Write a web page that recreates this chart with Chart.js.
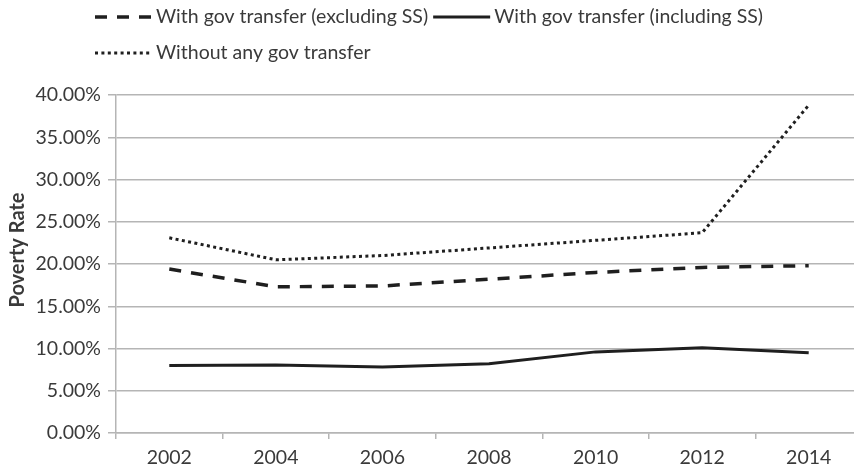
<!DOCTYPE html>
<html>
<head>
<meta charset="utf-8">
<script src="https://cdn.jsdelivr.net/npm/chart.js@4"></script>
<style>
  html, body { margin: 0; padding: 0; background: #fff; }
  #wrap { width: 854px; height: 471px; overflow: hidden; position: relative; }
  canvas { display: block; }
</style>
</head>
<body>
<div id="wrap">
  <canvas id="povertyChart" width="862" height="471"></canvas>
</div>
<script>
// Poverty rate by year under three transfer scenarios (%)
const years = ["2002", "2004", "2006", "2008", "2010", "2012", "2014"];
const excludingSS = [19.4, 17.3, 17.4, 18.2, 19.0, 19.6, 19.8];
const includingSS = [8.0, 8.05, 7.8, 8.2, 9.6, 10.1, 9.5];
const noTransfer = [23.1, 20.5, 21.0, 21.9, 22.8, 23.7, 38.8];
const seriesNames = [
    "With gov transfer (excluding SS)",
    "With gov transfer (including SS)",
    "Without any gov transfer"
];
const yTitle = "Poverty Rate";

const lineColor = "#1f1f1f";
const gridColor = "#b5b5b5";
const textColor = "#3a3a3a";
const fontFamily = "Lato, 'Open Sans', sans-serif";

// legend drawn by hand: two rows, left aligned, line samples with each dataset's dash.
// the y axis title is drawn here too so it can sit a bit above the axis middle
const legendRows = [[0, 1], [2]];
const manualLegend = {
    id: "manualLegend",
    afterDraw(chart) {
        const ctx = chart.ctx;
        const rowY = [17, 53];
        ctx.save();
        ctx.font = "19.5px " + fontFamily;
        ctx.textBaseline = "middle";
        legendRows.forEach((row, r) => {
            let x = 95;
            row.forEach(i => {
                const ds = chart.data.datasets[i];
                ctx.strokeStyle = ds.borderColor;
                ctx.lineWidth = ds.borderWidth;
                ctx.setLineDash(ds.borderDash || []);
                ctx.beginPath();
                ctx.moveTo(x, rowY[r]);
                ctx.lineTo(x + 57, rowY[r]);
                ctx.stroke();
                ctx.setLineDash([]);
                x += 61;
                ctx.fillStyle = textColor;
                ctx.fillText(ds.label, x, rowY[r]);
                x += ctx.measureText(ds.label).width + 5;
            });
        });

        ctx.translate(18, 250);
        ctx.rotate(-Math.PI / 2);
        ctx.textAlign = "center";
        ctx.font = "bold 20px " + fontFamily;
        ctx.fillText(yTitle, 0, 0);
        ctx.restore();
    }
};

let ctx = document.getElementById("povertyChart").getContext("2d");
let chart = new Chart(ctx, {
    type: "line",
    data: {
        labels: years,
        datasets: [
            {
                label: seriesNames[0],
                data: excludingSS,
                borderColor: lineColor,
                borderWidth: 3.5,
                borderDash: [12, 10],
                pointRadius: 0,
                tension: 0
            },
            {
                label: seriesNames[1],
                data: includingSS,
                borderColor: lineColor,
                borderWidth: 3,
                pointRadius: 0,
                tension: 0
            },
            {
                label: seriesNames[2],
                data: noTransfer,
                borderColor: lineColor,
                borderWidth: 3,
                borderDash: [3, 3.4],
                pointRadius: 0,
                tension: 0
            }
        ]
    },
    options: {
        responsive: false,
        animation: false,
        devicePixelRatio: 1,
        layout: { padding: { top: 95, left: 2, right: 0, bottom: 0 } },
        plugins: {
            legend: { display: false },
            tooltip: { enabled: false }
        },
        scales: {
            x: {
                offset: true,
                grid: {
                    offset: true,
                    drawOnChartArea: false,
                    drawTicks: true,
                    tickLength: 6,
                    color: gridColor,
                    lineWidth: 1.5
                },
                border: { color: gridColor, width: 1.5 },
                ticks: {
                    color: textColor,
                    padding: 7,
                    maxRotation: 0,
                    font: { family: fontFamily, size: 19.5 }
                },
                afterFit(scale) { scale.height = 38; }
            },
            y: {
                min: 0,
                max: 40,
                ticks: {
                    stepSize: 5,
                    color: textColor,
                    padding: 7,
                    font: { family: fontFamily, size: 19.5 },
                    callback: v => v.toFixed(2) + "%"
                },
                grid: {
                    color: gridColor,
                    lineWidth: 1.5,
                    tickLength: 8
                },
                border: { color: gridColor, width: 1.5 },
                afterFit(scale) { scale.width = 114; }
            }
        }
    },
    plugins: [manualLegend]
});
</script>
</body>
</html>
